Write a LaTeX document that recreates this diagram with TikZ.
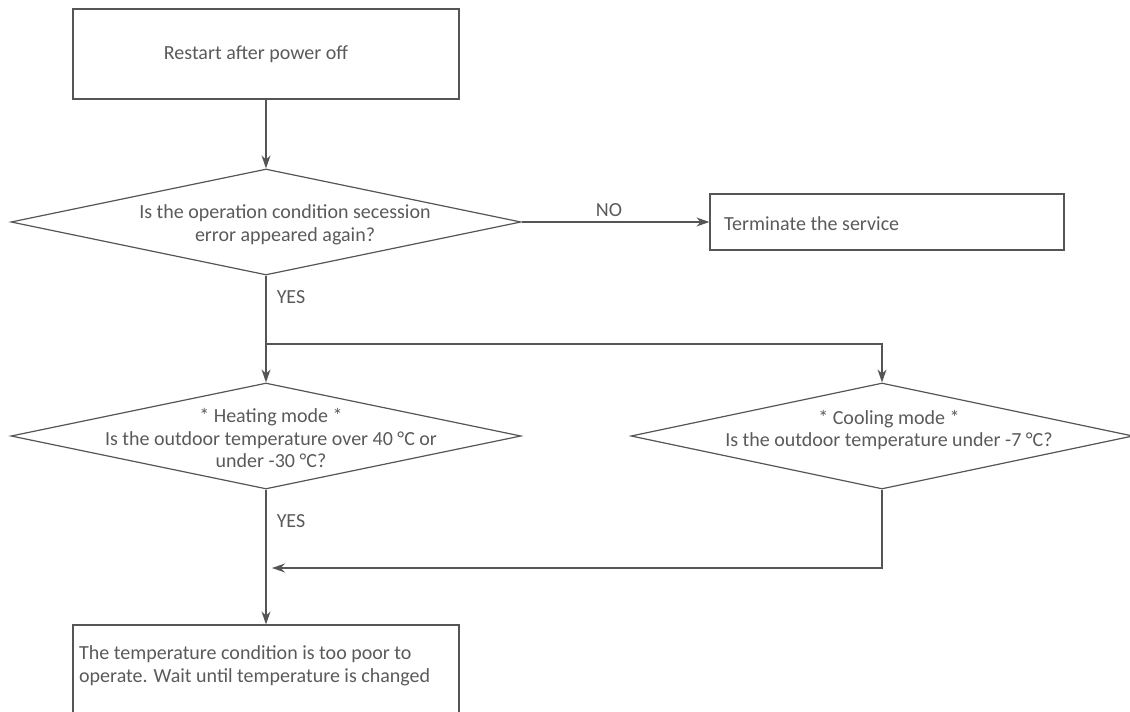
\documentclass[tikz,border=0pt]{standalone}
\usepackage{fontspec}
\setmainfont{Carlito}
\usetikzlibrary{shapes.geometric,arrows.meta}
\definecolor{linegray}{HTML}{555555}
\definecolor{txtgray}{HTML}{5A5A5A}

\begin{document}
\begin{tikzpicture}[x=1pt,y=-1pt,font=\fontsize{20}{22.5}\selectfont]
\tikzstyle{box}=[draw=linegray, line width=1.2pt, rectangle, inner sep=0pt]
\tikzstyle{decision}=[draw=linegray, line width=1.2pt, diamond, inner sep=0pt, minimum height=106pt]
\tikzstyle{txt}=[text=txtgray, inner sep=0pt, align=center]
\tikzstyle{arr}=[draw=linegray, line width=1.2pt, -{Stealth[length=13pt,width=9pt]}]

\useasboundingbox (0,0) rectangle (1130,712);

% boxes
\node[box, minimum width=386pt, minimum height=90pt] (start) at (266,54) {};
\node[box, minimum width=354pt, minimum height=56pt] (stop) at (887,222) {};
\node[box, minimum width=386pt, minimum height=120pt] (wait) at (266,685) {};

% decisions
\node[decision, minimum width=510pt] (ask) at (266,222) {};
\node[decision, minimum width=510pt] (hot) at (266,436) {};
\node[decision, minimum width=502pt] (cool) at (882,436) {};

% texts
\node[txt] (starttxt) at (256,54) {Restart after power off};
\node[txt] (asktxt) at (285,225) {Is the operation condition secession\\error appeared again?};
\node[txt, anchor=west] (stoptxt) at (724,224) {Terminate the service};
\node[txt] (hottxt) at (271,438) {* Heating mode *\\Is the outdoor temperature over 40 °C or\\under -30 °C?};
\node[txt] (cooltxt) at (889,430) {* Cooling mode *\\Is the outdoor temperature under -7 °C?};
\node[txt, anchor=west, align=left] (waittxt) at (79,666) {The temperature condition is too poor to\\operate. Wait until temperature is changed};

% labels
\node[txt] (no) at (609,210) {NO};
\node[txt] (yes1) at (291,297) {YES};
\node[txt] (yes2) at (291,521) {YES};

\coordinate (split) at (266,344);
\coordinate (join) at (272,568);

\foreach \from/\to in {start/ask, ask/hot, hot/wait}
\draw [arr] (\from) -- (\to);

\draw [arr] (ask.east) -- (stop.west);
\draw [arr] (split) -| (cool.north);
\draw [arr] (cool.south) |- (join);

\end{tikzpicture}
\end{document}
